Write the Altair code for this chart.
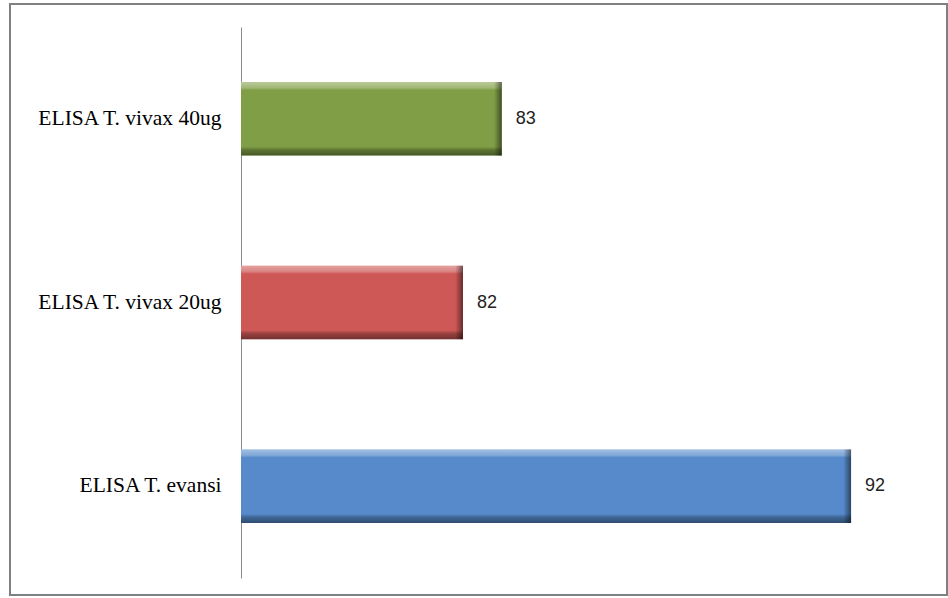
import altair as alt
import pandas as pd

categories = ["ELISA T. vivax 40ug", "ELISA T. vivax 20ug", "ELISA T. evansi"]
values = [83, 82, 92]
colors = ["#7F9E45", "#CD5856", "#568ACA"]

X_MIN = 76.28
X_MAX = 94.24

df = pd.DataFrame({"cat": categories, "val": values, "col": colors})
base = alt.Chart(df).transform_calculate(start=str(X_MIN))

yenc = alt.Y("cat:N", sort=categories,
             scale=alt.Scale(paddingInner=0.6, paddingOuter=0.3),
             axis=alt.Axis(title=None, ticks=False,
                           labelFont="Liberation Serif, DejaVu Serif, serif",
                           labelFontSize=21.5, labelColor="#000000", labelPadding=20,
                           labelLimit=300,
                           domainColor="#8C8C8C", domainWidth=1, grid=False))
xscale = alt.Scale(domain=[X_MIN, X_MAX], zero=False, nice=False)

bars = base.mark_bar().encode(
    x=alt.X("start:Q", scale=xscale, axis=None),
    x2="val:Q",
    y=yenc,
    color=alt.Color("col:N", scale=None),
)

shade_v = base.mark_bar(
    color=alt.Gradient(
        gradient="linear", x1=0, x2=0, y1=0, y2=1,
        stops=[
            alt.GradientStop(color="rgba(255,255,255,0.45)", offset=0),
            alt.GradientStop(color="rgba(255,255,255,0.25)", offset=0.08),
            alt.GradientStop(color="rgba(255,255,255,0)", offset=0.11),
            alt.GradientStop(color="rgba(0,0,0,0)", offset=0.88),
            alt.GradientStop(color="rgba(0,0,0,0.25)", offset=0.92),
            alt.GradientStop(color="rgba(0,0,0,0.45)", offset=1),
        ],
    )
).encode(
    x=alt.X("start:Q", scale=xscale, axis=None),
    x2="val:Q",
    y=yenc,
)

shade_r = base.transform_calculate(
    edge="datum.val - 0.2"
).mark_bar(
    color=alt.Gradient(
        gradient="linear", x1=0, x2=1, y1=0, y2=0,
        stops=[
            alt.GradientStop(color="rgba(0,0,0,0)", offset=0),
            alt.GradientStop(color="rgba(0,0,0,0.25)", offset=0.5),
            alt.GradientStop(color="rgba(0,0,0,0.5)", offset=1),
        ],
    )
).encode(
    x=alt.X("edge:Q", scale=xscale, axis=None),
    x2="val:Q",
    y=yenc,
)

labels = base.mark_text(align="left", baseline="middle", dx=14,
                        font="Liberation Sans", fontSize=18, color="#222222").encode(
    x=alt.X("val:Q", scale=xscale, axis=None),
    y=yenc,
    text=alt.Text("val:Q"),
)

frame = alt.Chart(pd.DataFrame({"f": [0]})).mark_rect(
    fillOpacity=0, stroke="#808080", strokeWidth=2, clip=False
).encode(
    x=alt.value(-231), x2=alt.value(706), y=alt.value(-23), y2=alt.value(568)
)

chart = alt.layer(frame, bars, shade_v, shade_r, labels).properties(
    width=697, height=551,
    autosize=alt.AutoSizeParams(type="none"),
    padding={"left": 241, "top": 27, "right": 10, "bottom": 20},
    background="white",
).configure_view(stroke=None)

chart.save("out.html", embed_options={"renderer": "svg", "actions": False})
